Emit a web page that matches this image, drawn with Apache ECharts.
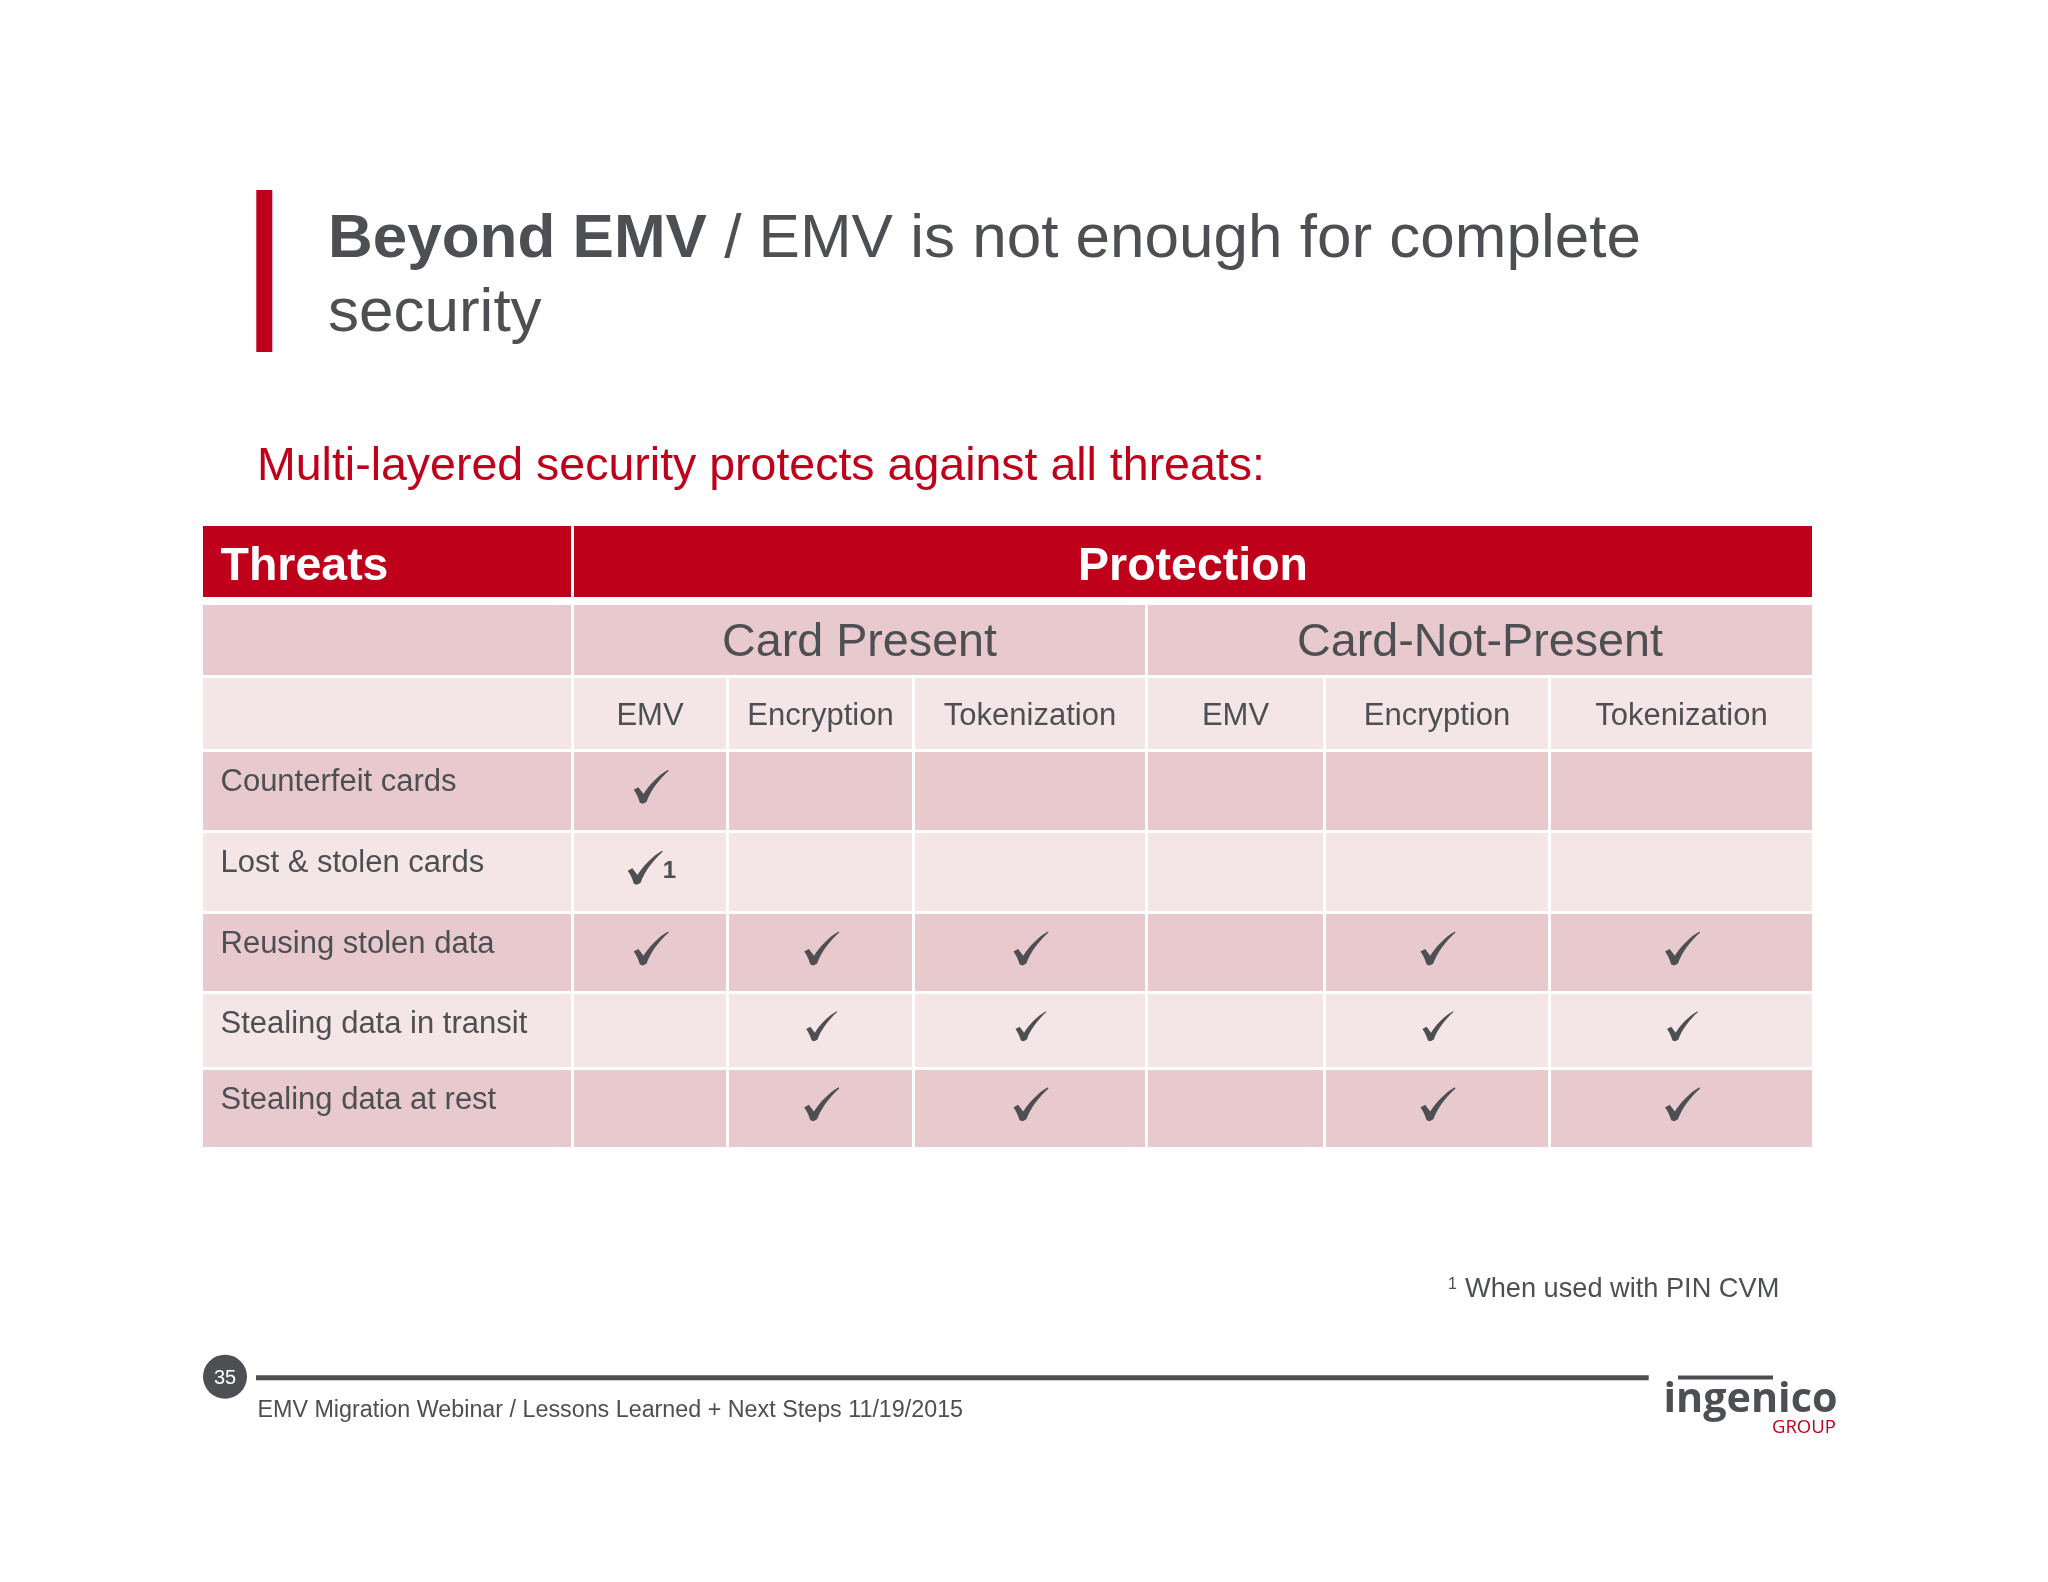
<!DOCTYPE html>
<html>
<head>
<meta charset="UTF-8">
<title>Beyond EMV</title>
<style>
html,body{margin:0;padding:0;background:#fff;}
#picContainer{width:2048px;height:1582px;}
</style>
</head>
<body>
<div id="picContainer"></div>
<script src="https://cdn.jsdelivr.net/npm/echarts@6/dist/echarts.min.js"></script>
<script>
var threats = ['Counterfeit cards', 'Lost & stolen cards', 'Reusing stolen data', 'Stealing data in transit', 'Stealing data at rest'];
var groups = ['Card Present', 'Card-Not-Present'];
var methods = ['EMV', 'Encryption', 'Tokenization', 'EMV', 'Encryption', 'Tokenization'];
var counterfeitCards = [1, 0, 0, 0, 0, 0];
var lostStolenCards = [1, 0, 0, 0, 0, 0];
var reusingStolenData = [1, 1, 1, 0, 1, 1];
var stealingInTransit = [0, 1, 1, 0, 1, 1];
var stealingAtRest = [0, 1, 1, 0, 1, 1];

var RED = '#bf001a', GREY = '#4d4f53', DARK = '#e8c9cd', LIGHT = '#f4e5e7';
var FONT = '"Liberation Sans", Arial, sans-serif';
var CHECK = 'path://M0 19.5L4.5 17L9.5 23.5C14 16 24 5 33.5 0L34 1C25 9 16.5 20 12.5 31L9 33L6 32C4.5 27 2.5 23 0 19.5Z';

var colSizes = [371, 155, 186, 232.5, 178, 225.5, 263.7];
var rowSizes = [74, 4.5, 73, 74.5, 80.5, 81.5, 80, 75.5, 80.7];

function cell(coord, value, color, label) {
    return {coord: coord, value: value, mergeCells: Array.isArray(coord[0]) || Array.isArray(coord[1]),
        label: label, itemStyle: {color: color, borderColor: '#fff', borderWidth: 3}};
}
// labels hang from the top of their cell, the padding places them in the row
function topLabel(size, top, color, weight) {
    return {color: color, fontFamily: FONT, fontWeight: weight || 'normal', fontSize: size, overflow: 'none',
        position: 'insideTop', distance: 0, align: 'center', verticalAlign: 'top', padding: [top, 0, 0, 0]};
}
function leftLabel(size, top, color, weight) {
    return {color: color, fontFamily: FONT, fontWeight: weight || 'normal', fontSize: size, overflow: 'none',
        position: 'insideTopLeft', distance: 0, align: 'left', verticalAlign: 'top', padding: [top, 0, 0, 19]};
}
var groupLabel = topLabel(46.7, 16, GREY);
var methodLabel = topLabel(31, 24.2, GREY);
var threatLabel = leftLabel(31, 16.5, GREY);

var cells = [];
cells.push(cell([0, 0], 'Threats', RED, leftLabel(46.5, 19.5, '#fff', 'bold')));
cells.push(cell([[1, 6], 0], 'Protection', RED, topLabel(46.5, 19.5, '#fff', 'bold')));
cells.push(cell([[0, 6], 1], '', '#fff', {show: false}));
cells.push(cell([0, 2], '', DARK, {show: false}));
cells.push(cell([[1, 3], 2], groups[0], DARK, groupLabel));
cells.push(cell([[4, 6], 2], groups[1], DARK, groupLabel));
cells.push(cell([0, 3], '', LIGHT, {show: false}));
methods.forEach(function (m, i) {
    cells.push(cell([i + 1, 3], m, LIGHT, methodLabel));
});
threats.forEach(function (t, r) {
    var color = r % 2 ? LIGHT : DARK;
    cells.push(cell([0, r + 4], t, color, threatLabel));
    for (var c = 1; c <= 6; c++) {
        cells.push(cell([c, r + 4], '', color, {show: false}));
    }
});

var checkRows = [counterfeitCards, lostStolenCards, reusingStolenData, stealingInTransit, stealingAtRest];
var checkData = [];
checkRows.forEach(function (row, r) {
    row.forEach(function (v, c) {
        if (v) checkData.push([c + 1, r + 4]);
    });
});

function text(x, y, str, size, color, extra) {
    return {type: 'text', x: x, y: y, silent: true, style: Object.assign({
        text: str, fontFamily: FONT, fontSize: size, fill: color, verticalAlign: 'middle'
    }, extra || {})};
}

var myChart = echarts.init(document.getElementById('picContainer'));
var option = {
    animation: false,
    backgroundColor: '#fff',
    matrix: {
        left: 201.7, top: 524.5, width: 1612.7, height: 624.2,
        x: {show: false, data: colSizes.map(function (s, i) { return {value: 'c' + i, size: s}; })},
        y: {show: false, data: rowSizes.map(function (s, i) { return {value: 'r' + i, size: s}; })},
        corner: {show: false},
        backgroundStyle: {color: '#fff', borderWidth: 0},
        body: {itemStyle: {borderColor: '#fff', borderWidth: 3}, data: cells}
    },
    series: [{
        type: 'scatter',
        coordinateSystem: 'matrix',
        symbol: CHECK,
        symbolKeepAspect: true,
        symbolSize: function (v) { return v[1] === 7 ? 31 : 35; },
        symbolOffset: function (v) { return v[1] === 5 ? [-5, -4] : [1, -4]; },
        itemStyle: {color: GREY, opacity: 1},
        data: checkData.map(function (d) {
            if (d[1] === 5) {
                return {value: d, label: {show: true, formatter: '1', position: 'right', distance: 2, offset: [-2, 4],
                    color: GREY, fontFamily: FONT, fontWeight: 'bold', fontSize: 24}};
            }
            return d;
        }),
        z: 10
    }],
    graphic: {elements: [
        {type: 'rect', shape: {x: 256.3, y: 190, width: 16, height: 162}, style: {fill: RED}, silent: true},
        {type: 'text', x: 328, y: 203, silent: true, style: {
            text: '{b|Beyond EMV}{r| / EMV is not enough for complete}\n{r|security}',
            rich: {
                b: {fontFamily: FONT, fontSize: 62, fontWeight: 'bold', fill: GREY, lineHeight: 74},
                r: {fontFamily: FONT, fontSize: 62, fill: GREY, lineHeight: 74}
            }
        }},
        text(257, 467, 'Multi-layered security protects against all threats:', 46.5, RED),
        text(1448, 1285, '1', 16, GREY),
        text(1465, 1290, 'When used with PIN CVM', 27.2, GREY),
        {type: 'circle', shape: {cx: 225, cy: 1376.7, r: 22}, style: {fill: GREY}, silent: true},
        text(225, 1378, '35', 20, '#fff', {align: 'center'}),
        {type: 'rect', shape: {x: 256, y: 1375.3, width: 1392.7, height: 5}, style: {fill: GREY}, silent: true},
        text(257.5, 1410.5, 'EMV Migration Webinar / Lessons Learned + Next Steps 11/19/2015', 23.3, GREY),
        text(1663.5, 1400, 'ingenico', 41.3, GREY, {fontFamily: '"Open Sans"', fontWeight: 'bold'}),
        {type: 'rect', shape: {x: 1678, y: 1375.5, width: 95, height: 4}, style: {fill: GREY}, silent: true},
        text(1772, 1428, 'GROUP', 18.5, RED, {fontFamily: '"Open Sans"'})
    ]}
};
myChart.setOption(option);
</script>
</body>
</html>
